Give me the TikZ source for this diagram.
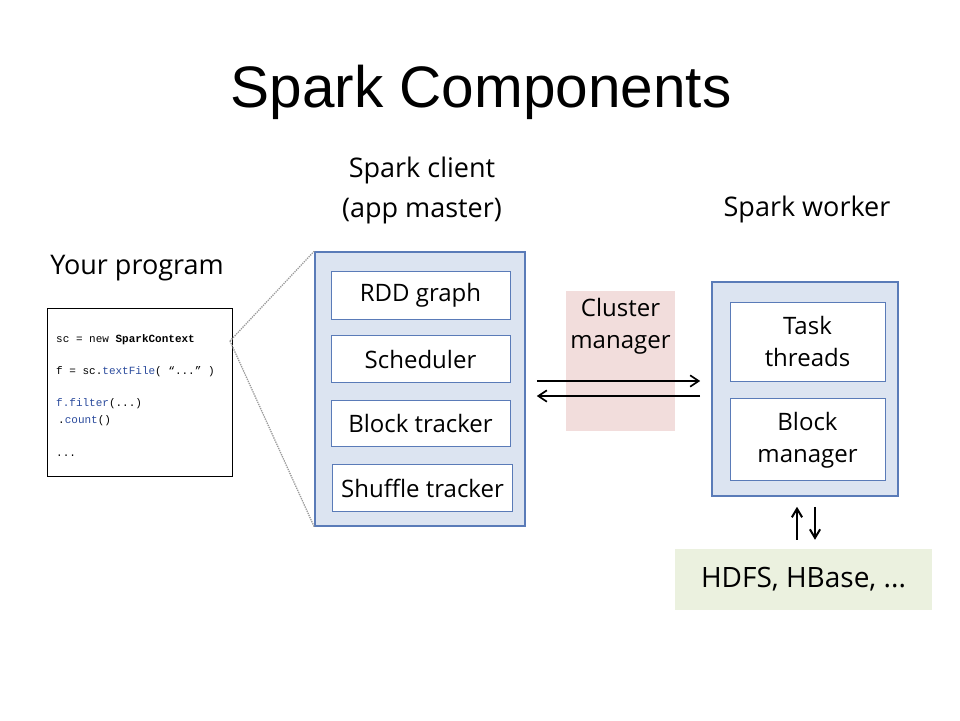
\documentclass[tikz,border=0pt]{standalone}
\usepackage{fontspec}
\setmainfont{Open Sans}
\newfontfamily\titlefont{Liberation Sans}
\setmonofont{Liberation Mono}
\usetikzlibrary{arrows.meta,positioning}
\definecolor{frame}{HTML}{5A7BB8}
\definecolor{paleblue}{HTML}{DCE4F1}
\definecolor{palepink}{HTML}{F2DDDC}
\definecolor{palegreen}{HTML}{EBF1DF}
\definecolor{method}{HTML}{2A4A9C}
\tikzset{outer/.style={draw=frame,line width=1.6pt,fill=paleblue,inner sep=0pt}, part/.style={draw=frame,line width=0.9pt,fill=white,align=center,inner sep=0pt,font=\fontsize{24}{32}\selectfont}, caption/.style={align=center,font=\fontsize{27}{40}\selectfont}, code/.style={anchor=west,inner sep=0pt,font=\ttfamily\fontsize{11}{13}\selectfont}, flow/.style={-{Straight Barb[length=3mm,width=4mm]},line width=1.7pt}, io/.style={-{Straight Barb[length=3mm,width=3.6mm]},line width=2pt}, callout/.style={densely dotted,draw=gray!80,line width=1.3pt}}

\begin{document}
\begin{tikzpicture}[x=1pt,y=-1pt]
\useasboundingbox (0,0) rectangle (960,720);
\node[font=\titlefont\fontsize{58.5}{60}\selectfont] (title) at (481,92) {Spark Components};
% your program
\node[caption] (prog) at (137,268) {Your program};
\node[draw,line width=1pt,minimum width=185pt,minimum height=168pt,inner sep=0pt] (code) at (139.5,392) {};
\node[code] (c1) at (56,340) {sc = new \textbf{SparkContext}};
\node[code] (c2) at (56,372) {f = sc.\textcolor{method}{textFile}( “...” )};
\node[code] (c3) at (56,404) {\textcolor{method}{f.filter}(...)};
\node[code] (c4) at (58,421) {.\textcolor{method}{count}()};
\node[code] (c5) at (56,456) {...};
% spark client
\node[caption] (client) at (422,190) {Spark client\\(app master)};
\node[outer,minimum width=210pt,minimum height=274pt] (master) at (420,389) {};
\node[part,minimum width=179pt,minimum height=48pt] (rdd) at (420.5,295) {RDD graph};
\node[part,minimum width=179pt,minimum height=47pt,below=16pt of rdd] (sched) {Scheduler};
\node[part,minimum width=179pt,minimum height=46pt,below=17pt of sched] (btrack) {Block tracker};
\node[part,minimum width=180pt,minimum height=47pt,below=17pt of btrack,xshift=2pt] (shuffle) {Shuffle tracker};
\coordinate (zoom) at (230,341);
\draw[callout] (zoom) -- (master.north west);
\draw[callout] (zoom) -- (master.south west);
% cluster manager
\node[fill=palepink,minimum width=109pt,minimum height=140pt,inner sep=0pt,label={[part,draw=none,fill=none,anchor=north,yshift=-7pt]north:Cluster\\manager}] (cm) at (620.5,361) {};
% spark worker
\node[caption] (wlabel) at (807,209) {Spark worker};
\node[outer,minimum width=186pt,minimum height=214pt] (worker) at (805,389) {};
\node[part,minimum width=155pt,minimum height=79pt] (tasks) at (807.5,341.5) {Task\\threads};
\node[part,minimum width=155pt,minimum height=82pt,below=17pt of tasks] (bman) {Block\\manager};
\node[fill=palegreen,minimum width=257pt,minimum height=61pt,font=\fontsize{28}{32}\selectfont] (hdfs) at (803.5,579.5) {HDFS, HBase, ...};
\draw[flow,shorten <=11pt,shorten >=11pt] ([yshift=8pt]master.east) -- ([yshift=8pt]worker.west);
\draw[flow,shorten <=11pt,shorten >=11pt] ([yshift=-7pt]worker.west) -- ([yshift=-7pt]master.east);
\coordinate (up) at ([xshift=-8pt]worker.south);
\coordinate (down) at ([xshift=10pt]worker.south);
\draw[io,shorten <=9pt,shorten >=10pt] (up |- hdfs.north) -- (up);
\draw[io,shorten <=10pt,shorten >=9pt] (down) -- (down |- hdfs.north);
\end{tikzpicture}
\end{document}
